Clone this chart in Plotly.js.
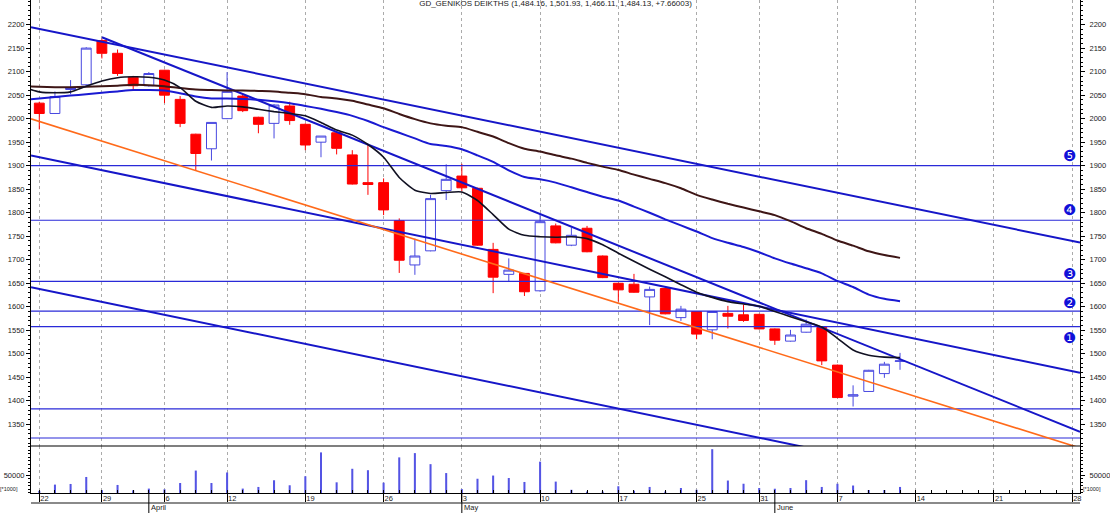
<!DOCTYPE html>
<html><head><meta charset="utf-8">
<script src="https://cdn.plot.ly/plotly-3.0.1.min.js"></script>
<style>html,body{margin:0;padding:0;background:#fff;}#chart{width:1110px;height:513px;}</style>
</head><body><div id="chart"></div>
<script>
// ---- data ----
const dates = ['2010-03-22','2010-03-23','2010-03-24','2010-03-26','2010-03-29','2010-03-30','2010-03-31','2010-04-01',
'2010-04-06','2010-04-07','2010-04-08','2010-04-09','2010-04-12','2010-04-13','2010-04-14','2010-04-15','2010-04-16',
'2010-04-19','2010-04-20','2010-04-21','2010-04-22','2010-04-23','2010-04-26','2010-04-27','2010-04-28','2010-04-29','2010-04-30',
'2010-05-03','2010-05-04','2010-05-05','2010-05-06','2010-05-07','2010-05-10','2010-05-11','2010-05-12','2010-05-13','2010-05-14',
'2010-05-17','2010-05-18','2010-05-19','2010-05-20','2010-05-21','2010-05-25','2010-05-26','2010-05-27','2010-05-28',
'2010-05-31','2010-06-01','2010-06-02','2010-06-03','2010-06-04','2010-06-07','2010-06-08','2010-06-09','2010-06-10','2010-06-11',
'2010-06-14','2010-06-15','2010-06-16','2010-06-17','2010-06-18','2010-06-21','2010-06-22','2010-06-23','2010-06-24','2010-06-25','2010-06-28'];
const openP  = [2033,2011,2062,2072,2166,2139,2088,2070,2103,2041,1967,1936,2000,2048,2003,1990,2027,1988,1950,1970,1923,1864,1864,1783,1689,1719,1847,1878,1852,1722,1669,1671,1634,1772,1731,1767,1708,1650,1648,1621,1639,1577,1590,1551,1586,1583,1584,1553,1527,1546,1556,1476,1410,1420,1458,1484];
const highP  = [2036,2058,2082,2152,2170,2147,2091,2099,2104,2048,1968,1992,2099,2052,2004,2031,2036,1990,1963,1971,1933,1944,1873,1788,1745,1838,1903,1904,1853,1736,1703,1672,1797,1777,1768,1772,1709,1651,1670,1643,1640,1602,1591,1590,1602,1604,1585,1554,1551,1573,1557,1477,1433,1466,1483,1502];
const lowP   = [1977,2010,2052,2070,2128,2091,2059,2068,2033,1982,1889,1911,1999,2014,1969,1958,1987,1933,1918,1924,1860,1838,1795,1672,1668,1718,1827,1846,1730,1629,1653,1623,1632,1735,1729,1716,1661,1611,1630,1561,1584,1570,1531,1531,1554,1568,1552,1519,1526,1545,1476,1406,1388,1419,1449,1466];
const closeP = [2011,2047,2066,2150,2139,2096,2070,2096,2050,1990,1926,1992,2058,2017,1988,2029,1996,1944,1963,1937,1861,1860,1806,1699,1708,1830,1871,1853,1731,1663,1678,1632,1781,1736,1752,1717,1662,1636,1631,1637,1585,1595,1542,1590,1580,1571,1553,1529,1540,1563,1485,1407,1413,1465,1478,1485];
const volume = [6000,23600,25400,45000,8000,22600,7600,12400,10400,28000,63000,28000,57600,12400,17000,35800,21700,47000,114000,30000,68000,64000,29000,100000,112000,81000,56000,11000,40000,49000,42000,31000,88000,32000,9000,4000,4000,19000,6500,17000,4000,14000,9000,123000,35000,26000,14000,12000,14000,36000,17000,26000,21000,8500,8500,17000];
const maPrevDate = '2010-03-19';
const maShort = [2067,2057,2055,2057,2069,2080,2087,2089,2088,2082,2066,2037,2024,2027,2025,2020,2015,2011,2006,1992,1976,1965,1945,1918,1875,1848,1841,1843,1844,1826,1796,1765,1752,1749,1748,1749,1745,1732,1714,1697,1680,1664,1647,1631,1620,1611,1606,1601,1590,1579,1568,1557,1533,1508,1497,1493,1492];
const maMid   = [2040,2043,2046,2049,2052,2055,2058,2061,2061,2060,2054,2047,2043,2043,2042,2040,2037,2033,2027,2021,2014,2006,1995,1982,1970,1958,1946,1942,1935,1922,1908,1890,1876,1871,1864,1854,1844,1834,1826,1813,1800,1786,1773,1760,1746,1736,1727,1716,1703,1692,1682,1671,1655,1642,1626,1617,1612];
const maLong  = [2069,2068,2067,2067,2068,2069,2070,2072,2071,2069,2065,2062,2061,2060,2060,2059,2058,2055,2052,2046,2043,2038,2030,2022,2010,1999,1990,1985,1982,1972,1962,1948,1936,1930,1922,1915,1906,1898,1891,1881,1872,1863,1852,1838,1828,1819,1811,1803,1795,1782,1767,1755,1741,1730,1718,1710,1704];
const levels = [1900,1784,1654,1591,1558,1383,1321];
const levelLabels = ['\u277A','\u2779','\u2778','\u2777','\u2776','',''];
const trendFrom    = ['2010-03-22','2010-03-29','2010-03-22','2010-03-22','2010-03-22'];
const trendFromVal = [2191,2173,1918,1638,1994];
const trendTo      = ['2010-06-28','2010-06-28','2010-06-28','2010-06-28','2010-06-28'];
const trendToVal   = [1740,1341,1463,1184,1305];
const trendExtendLeft = [true,false,true,true,true];
const quoteName = 'GD_GENIKOS DEIKTHS';
const quoteValues = ['1,484.16','1,501.93','1,466.11','1,484.13','+7.66003'];
const monthNames = ['January','February','March','April','May','June','July','August','September','October','November','December'];
const priceTicks = [1350,1400,1450,1500,1550,1600,1650,1700,1750,1800,1850,1900,1950,2000,2050,2100,2150,2200];
const volTicks = [50000];

// ---- styles / layout constants ----
const FONT = 'Liberation Sans, Arial, sans-serif';
const BLUE = '#1616c8';
const xr = [-0.53, 66.5];
const priceRange = [1304, 2252.3];
const volRange = [0, 131900];
const split = 0.0953;
const labelShift = [10, 10, 7, 8, -11, 0, 0];

const idx = d => d === maPrevDate ? -1 : dates.indexOf(d);
const nC = openP.length;
const cx = dates.slice(0, nC).map(idx);
const maX = [idx(maPrevDate)].concat(cx);

// week ticks & months
const tickvals = [], ticktext = [], monthIdx = [], monthText = [];
dates.forEach((d, i) => {
  const dt = new Date(d + 'T00:00:00Z');
  if (i === 0) { tickvals.push(i); ticktext.push(String(dt.getUTCDate())); return; }
  const pv = new Date(dates[i-1] + 'T00:00:00Z');
  if (dt.getUTCDay() <= pv.getUTCDay() || (dt - pv) >= 7*86400000) { tickvals.push(i); ticktext.push(String(dt.getUTCDate())); }
  if (dt.getUTCMonth() !== pv.getUTCMonth()) { monthIdx.push(i); monthText.push(monthNames[dt.getUTCMonth()]); }
});

const traces = [];
traces.push({type:'candlestick', x:cx, open:openP, high:highP, low:lowP, close:closeP, xaxis:'x', yaxis:'y',
  increasing:{line:{color:'#4848e0', width:1}, fillcolor:'#ffffff'},
  decreasing:{line:{color:'#ff0000', width:1}, fillcolor:'#ff0000'},
  whiskerwidth:0, hoverinfo:'skip', showlegend:false});
levels.forEach(v => traces.push({type:'scatter', mode:'lines', x:[xr[0], xr[1]], y:[v, v], xaxis:'x', yaxis:'y',
  line:{color:'#2a2ad8', width:1.2}, hoverinfo:'skip', showlegend:false}));
const trendStyle = [{color:BLUE,width:2},{color:BLUE,width:2},{color:BLUE,width:2},{color:BLUE,width:2},{color:'#ff6a1a',width:1.6}];
trendFrom.forEach((d, k) => {
  const i1 = idx(d), i2 = idx(trendTo[k]), v1 = trendFromVal[k], v2 = trendToVal[k];
  const f = x => v1 + (v2 - v1) * (x - i1) / (i2 - i1);
  const x0 = trendExtendLeft[k] ? xr[0] : i1;
  traces.push({type:'scatter', mode:'lines', x:[x0, xr[1]], y:[f(x0), f(xr[1])], xaxis:'x', yaxis:'y',
    line:trendStyle[k], hoverinfo:'skip', showlegend:false});
});
traces.push({type:'scatter', mode:'lines', x:maX, y:maLong, line:{color:'#3e1616', width:2, shape:'spline', smoothing:0.6}, hoverinfo:'skip', showlegend:false});
traces.push({type:'scatter', mode:'lines', x:maX, y:maMid, line:{color:'#1a1ad2', width:2, shape:'spline', smoothing:0.6}, hoverinfo:'skip', showlegend:false});
traces.push({type:'scatter', mode:'lines', x:maX, y:maShort, line:{color:'#111122', width:1.6, shape:'spline', smoothing:0.6}, hoverinfo:'skip', showlegend:false});
traces.push({type:'bar', x:cx, y:volume, xaxis:'x', yaxis:'y2', width:0.13, marker:{color:'#5454e4', line:{width:0}}, hoverinfo:'skip', showlegend:false});
traces.push({type:'scatter', mode:'lines', x:cx, y:closeP, xaxis:'x', yaxis:'y3', opacity:0, hoverinfo:'skip', showlegend:false});
traces.push({type:'scatter', mode:'lines', x:cx, y:volume, xaxis:'x', yaxis:'y4', opacity:0, hoverinfo:'skip', showlegend:false});

const tf = {family:FONT, size:7.5, color:'#222'};
const yBase = {showgrid:false, zeroline:false, showline:true, linecolor:'#000', linewidth:1, ticks:'outside', ticklen:4, tickcolor:'#000',
  tickfont:tf, fixedrange:true};
const layout = {
  width:1110, height:513, margin:{l:31, r:30, t:0, b:20}, paper_bgcolor:'#fff', plot_bgcolor:'#fff',
  showlegend:false, hovermode:false, boxgap:0.1, dragmode:false,
  title:{text:quoteName + ' (' + quoteValues.join(', ') + ')', font:{family:FONT, size:8, color:'#222'}, x:0.5, xanchor:'center', xref:'paper', y:0.999, yanchor:'top', yref:'container', pad:{t:0,b:0}},
  xaxis:{range:xr, anchor:'y2', tickmode:'array', tickvals:tickvals, ticktext:ticktext, ticks:'outside', ticklen:10, tickcolor:'#000',
    showline:true, linecolor:'#000', linewidth:1, showgrid:true, gridcolor:'#ababab', griddash:'3px,3px', gridwidth:1, zeroline:false,
    tickfont:tf, ticklabelposition:'outside right', ticklabelstandoff:-2, fixedrange:true, rangeslider:{visible:false},
    minor:{tickmode:'linear', tick0:0, dtick:1, ticks:'inside', ticklen:3, tickcolor:'#000', showgrid:false}},
  yaxis:Object.assign({}, yBase, {domain:[split, 1], range:priceRange, side:'left', tickmode:'array', tickvals:priceTicks,
    minor:{dtick:10, tick0:0, ticks:'outside', ticklen:2, tickcolor:'#000', showgrid:false}}),
  yaxis3:Object.assign({}, yBase, {overlaying:'y', range:priceRange, side:'right', tickmode:'array', tickvals:priceTicks, ticklabelstandoff:3,
    minor:{dtick:10, tick0:0, ticks:'outside', ticklen:2, tickcolor:'#000', showgrid:false}}),
  yaxis2:Object.assign({}, yBase, {domain:[0, split], range:volRange, side:'left', tickmode:'array', tickvals:volTicks, ticktext:volTicks.map(String),
    minor:{dtick:10000, tick0:0, ticks:'outside', ticklen:2, tickcolor:'#000', showgrid:false}}),
  yaxis4:Object.assign({}, yBase, {overlaying:'y2', range:volRange, side:'right', tickmode:'array', tickvals:volTicks, ticktext:volTicks.map(String), ticklabelstandoff:3,
    minor:{dtick:10000, tick0:0, ticks:'outside', ticklen:2, tickcolor:'#000', showgrid:false}}),
  shapes:[
    {type:'line', xref:'paper', yref:'paper', x0:0, x1:1, y0:split, y1:split, line:{color:'#000', width:1.2}},
    {type:'line', xref:'paper', yref:'paper', x0:0, x1:1, y0:-10/493, y1:-10/493, line:{color:'#8a8a8a', width:2}}
  ].concat(monthIdx.map(i => ({type:'line', xref:'x', yref:'paper', x0:i, x1:i, y0:0, y1:-20/493, line:{color:'#000', width:1}}))),
  annotations:[
    {xref:'paper', yref:'paper', x:0, y:0, xanchor:'right', yanchor:'bottom', xshift:-11, yshift:-1, text:'[*1000]', showarrow:false, font:{family:FONT, size:5.5, color:'#222'}},
    {xref:'paper', yref:'paper', x:1, y:0, xanchor:'left', yanchor:'bottom', xshift:1, yshift:-1, text:'[*1000]', showarrow:false, font:{family:FONT, size:5.5, color:'#222'}}
  ].concat(monthIdx.map((i, k) => ({xref:'x', yref:'paper', x:i, y:-20/493, xanchor:'left', yanchor:'bottom', xshift:0, yshift:-1, text:monthText[k], showarrow:false, font:{family:FONT, size:7.5, color:'#222'}})))
   .concat(levels.map((v, k) => levelLabels[k] ? ({xref:'paper', yref:'y', x:1, y:v, xanchor:'right', yanchor:'middle', xshift:-2, yshift:labelShift[k], text:levelLabels[k], showarrow:false, font:{family:'DejaVu Sans', size:15, color:'#1010d8'}}) : null).filter(Boolean))
};
Plotly.newPlot('chart', traces, layout, {staticPlot:true, displayModeBar:false});
</script></body></html>
